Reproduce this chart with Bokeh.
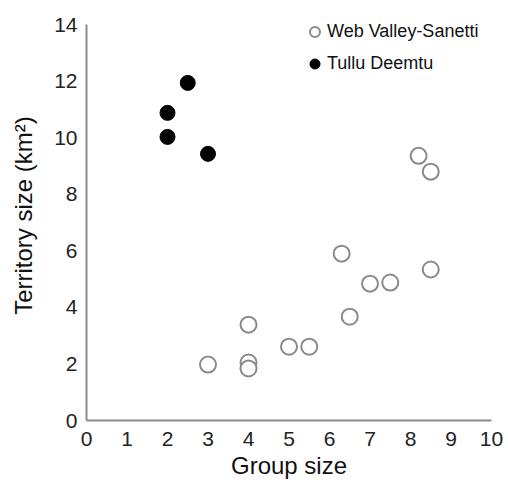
from bokeh.plotting import figure
from bokeh.models import Range1d, FixedTicker, Legend, LegendItem
from bokeh.embed import file_html
from bokeh.resources import INLINE

# Data
wvs_group = [3.0, 4.0, 4.0, 4.0, 5.0, 5.5, 6.3, 6.5, 7.0, 7.5, 8.2, 8.5, 8.5]
wvs_territory = [1.98, 2.05, 1.84, 3.39, 2.61, 2.61, 5.9, 3.67, 4.84, 4.88, 9.36, 8.8, 5.34]
td_group = [2.0, 2.0, 2.5, 3.0]
td_territory = [10.88, 10.03, 11.94, 9.43]
x_ticks = list(range(0, 11))
y_ticks = list(range(0, 15, 2))

FONT = "Liberation Sans"

p = figure(width=508, height=482, output_backend="svg", toolbar_location=None,
           x_range=Range1d(0, 10), y_range=Range1d(0, 14.5),
           min_border_left=86, min_border_right=17, min_border_top=10, min_border_bottom=62)
p.outline_line_color = None
p.xgrid.visible = False
p.ygrid.visible = False

r_wvs = p.scatter(wvs_group, wvs_territory, size=16, marker="circle",
                  fill_color="white", line_color="#8a8a8a", line_width=2)
r_td = p.scatter(td_group, td_territory, size=15, marker="circle",
                 fill_color="black", line_color="black", line_width=1)

for ax in (p.xaxis[0], p.yaxis[0]):
    ax.axis_line_color = "#8c8c8c"
    ax.axis_line_width = 2
    ax.major_tick_line_color = None
    ax.minor_tick_line_color = None
    ax.major_tick_out = 0
    ax.major_tick_in = 0
    ax.major_label_text_font = FONT
    ax.major_label_text_font_size = "21px"
    ax.major_label_text_color = "#222222"
    ax.axis_label_text_font = FONT
    ax.axis_label_text_font_size = "24px"
    ax.axis_label_text_font_style = "normal"
    ax.axis_label_text_color = "#111111"

p.xaxis.ticker = FixedTicker(ticks=x_ticks)
p.yaxis.ticker = FixedTicker(ticks=y_ticks)
p.yaxis.bounds = (0, 14)
p.xaxis.axis_label = "Group size"
p.yaxis.axis_label = "Territory size (km²)"
p.xaxis.major_label_standoff = 11
p.xaxis.axis_label_standoff = 3
p.yaxis.major_label_standoff = 9
p.yaxis.axis_label_standoff = 14

legend = Legend(items=[LegendItem(label="Web Valley-Sanetti", renderers=[r_wvs]),
                       LegendItem(label="Tullu Deemtu", renderers=[r_td])],
                location=(216, 344), padding=0, margin=0, spacing=7,
                glyph_width=25, glyph_height=25, label_standoff=0,
                label_text_font=FONT, label_text_font_size="18px",
                label_text_color="#111111",
                border_line_color=None, background_fill_alpha=0)
p.add_layout(legend)

open("out.html", "w").write(file_html(p, INLINE))
